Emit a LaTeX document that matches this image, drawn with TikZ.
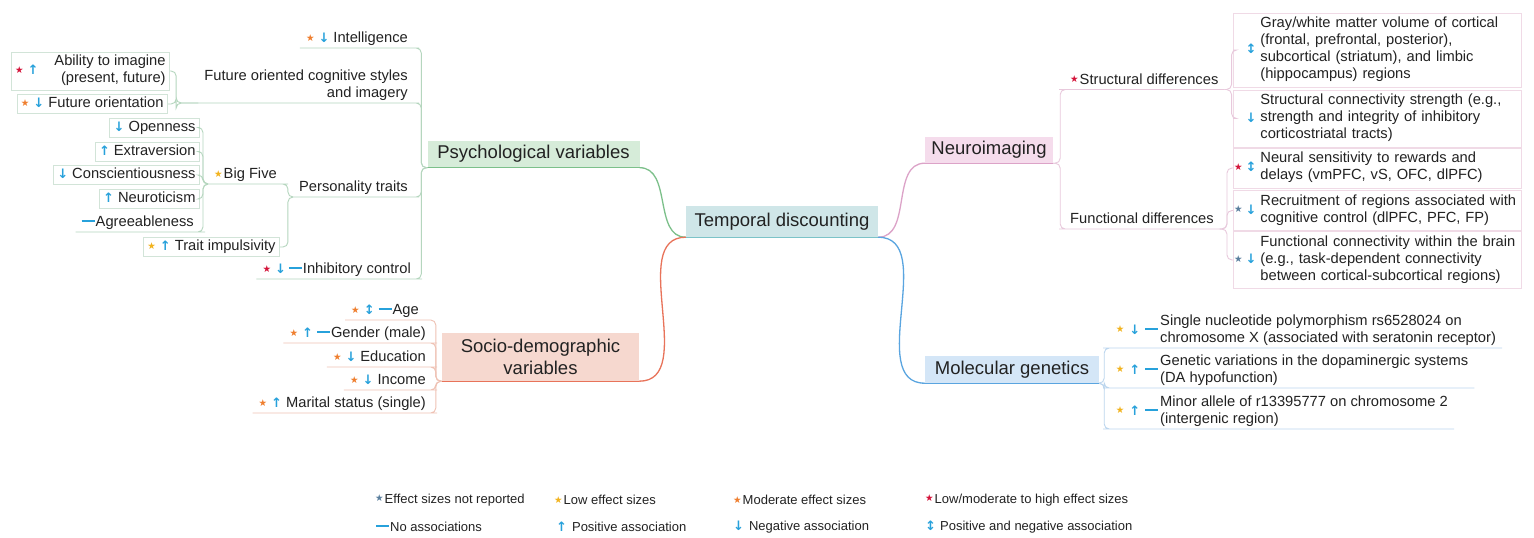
\documentclass[tikz,border=0pt]{standalone}
\usepackage{fontspec}
\setmainfont{Liberation Sans}
\newfontfamily\iconfont{DejaVu Sans}

\definecolor{txt}{HTML}{222222}
\definecolor{cNR}{HTML}{5B7F9E}
\definecolor{cLow}{HTML}{F2B31E}
\definecolor{cMod}{HTML}{EF7E2E}
\definecolor{cHigh}{HTML}{D4143A}
\definecolor{arblue}{HTML}{27A1DB}
\definecolor{tdfill}{HTML}{CFE6E8}
\definecolor{tdline}{HTML}{7CC3C8}
\definecolor{psfill}{HTML}{D6ECD9}
\definecolor{psmain}{HTML}{7CC08A}
\definecolor{psline}{HTML}{B5D6BE}
\definecolor{psbox}{HTML}{D2E4D8}
\definecolor{sofill}{HTML}{F6D8CF}
\definecolor{somain}{HTML}{E8735A}
\definecolor{soline}{HTML}{EFC2B4}
\definecolor{nefill}{HTML}{F5DCEC}
\definecolor{nemain}{HTML}{DCA3C8}
\definecolor{neline}{HTML}{E8C9DC}
\definecolor{nebox}{HTML}{F0DAE6}
\definecolor{mofill}{HTML}{D4E6F7}
\definecolor{momain}{HTML}{5AA5E0}
\definecolor{moline}{HTML}{BCD6EE}

\newcommand{\lblfont}{\fontsize{14.7}{17}\selectfont}
\newcommand{\topicfont}{\fontsize{18.5}{22.5}\selectfont}
\newcommand{\legfont}{\fontsize{13}{15}\selectfont}
\newcommand{\mkstar}[1]{\raisebox{1.6pt}{\iconfont\fontsize{9.5}{9.5}\selectfont\color{#1}★}}
\newcommand{\starNR}{\mkstar{cNR}}
\newcommand{\starLow}{\mkstar{cLow}}
\newcommand{\starMod}{\mkstar{cMod}}
\newcommand{\starHigh}{\mkstar{cHigh}}
\newcommand{\arUp}{{\iconfont\bfseries\fontsize{13}{13}\selectfont\color{arblue}↑}}
\newcommand{\arDown}{{\iconfont\bfseries\fontsize{13}{13}\selectfont\color{arblue}↓}}
\newcommand{\arBoth}{{\iconfont\bfseries\fontsize{13}{13}\selectfont\color{arblue}↕}}
\newcommand{\noAssoc}{{\color{arblue}\rule[4.2pt]{13pt}{2pt}}}

\begin{document}
\begin{tikzpicture}[x=1pt,y=-1pt,
  topic/.style={fill=#1, inner sep=0pt, minimum height=27pt, font=\topicfont, align=center, text=txt},
  lbl/.style={inner xsep=6pt, inner ysep=2pt, font=\lblfont, text=txt, text height=11pt, text depth=3.2pt},
  lbltwo/.style={inner xsep=6pt, inner ysep=2pt, font=\lblfont, text=txt},
  lbox/.style={lbl, draw=#1, line width=0.8pt, inner xsep=4pt, inner ysep=2.4pt},
  lboxtwo/.style={lbltwo, draw=#1, line width=0.8pt, inner xsep=4pt},
  rbox/.style={lbltwo, draw=#1, line width=0.8pt, anchor=west, inner xsep=3pt, inner ysep=3pt, text width=282pt},
  gene/.style={lbltwo, anchor=south west, inner ysep=0pt},
  branch/.style={draw=#1, line width=0.9pt, rounded corners=5pt},
  mainline/.style={draw=#1, line width=1.3pt},
  leg/.style={font=\legfont, text=txt, anchor=west, inner sep=0pt}]
\fill[white] (0,0) rectangle (1534,538);
\useasboundingbox (0,0) rectangle (1534,538);

% main topics
\node[topic=tdfill, minimum width=192pt, minimum height=31pt] (td) at (782,221.5) {Temporal discounting};
\node[topic=psfill, minimum width=212pt] (psych) at (533.5,154) {Psychological variables};
\node[topic=sofill, minimum width=197pt, minimum height=48pt] (socio) at (540.5,357) {Socio-demographic\\variables};
\node[topic=nefill, minimum width=128pt, minimum height=26pt] (neuro) at (989,150) {Neuroimaging};
\node[topic=mofill, minimum width=174pt] (mol) at (1012,369.5) {Molecular genetics};

\draw[mainline=tdline] (td.south west) -- (td.south east);
\draw[mainline=psmain] (psych.south west) -- (psych.south east);
\draw[mainline=somain] (socio.south west) -- (socio.south east);
\draw[mainline=nemain] (neuro.south west) -- (neuro.south east);
\draw[mainline=momain] (mol.south west) -- (mol.south east);
\draw[mainline=psmain] (td.south west) to[out=180,in=0] (psych.south east);
\draw[mainline=somain] (td.south west) to[out=180,in=0] (socio.south east);
\draw[mainline=nemain] (td.south east) to[out=0,in=180] (neuro.south west);
\draw[mainline=momain] (td.south east) to[out=0,in=180] (mol.south west);

% psychological variables
\node[lbl, anchor=south east] (intel) at (414,48) {\starMod\hspace{4pt}\arDown\hspace{4pt}Intelligence};
\node[lbltwo, align=right, anchor=south east] (future) at (414,103) {Future oriented cognitive styles\\and imagery};
\node[lbl, anchor=south east] (pers) at (414,197) {Personality traits};
\node[lbl, anchor=south east] (inhib) at (417,279) {\starHigh\hspace{4pt}\arDown\hspace{3pt}\noAssoc\hspace{1pt}Inhibitory control};
\foreach \c in {intel,future,pers,inhib}
  \draw[branch=psline] (psych.south west) -- ++(-6,0) |- (\c.south east) -- (\c.south west);

\node[lboxtwo=psbox, anchor=east] (imagine) at (170,71) {\starHigh\hspace{4pt}\arUp\hspace{16pt}\begin{tabular}[c]{@{}r@{}}Ability to imagine\\(present, future)\end{tabular}};
\node[lbox=psbox, anchor=east] (futori) at (168,104) {\starMod\hspace{4pt}\arDown\hspace{4pt}Future orientation};
\foreach \c in {imagine,futori}
  \draw[branch=psline] (future.south west) -- ++(-22,0) |- (\c.east);

\node[lbl, anchor=south east] (bigfive) at (283,184) {\starLow\hspace{1pt}Big Five};
\node[lbox=psbox, anchor=east] (trait) at (280,247) {\starLow\hspace{4pt}\arUp\hspace{4pt}Trait impulsivity};
\draw[branch=psline] (pers.south west) -- ++(-5,0) |- (bigfive.south east) -- (bigfive.south west);
\draw[branch=psline] (pers.south west) -- ++(-5,0) |- (trait.east);

\node[lbox=psbox, anchor=east] (open) at (200,127.5) {\arDown\hspace{4pt}Openness};
\node[lbox=psbox, anchor=east] (extra) at (200,151.5) {\arUp\hspace{4pt}Extraversion};
\node[lbox=psbox, anchor=east] (consc) at (200,175) {\arDown\hspace{4pt}Conscientiousness};
\node[lbox=psbox, anchor=east] (neurot) at (200,199) {\arUp\hspace{4pt}Neuroticism};
\node[lbl, anchor=south east] (agree) at (200,232) {\noAssoc\hspace{1pt}Agreeableness};
\foreach \c in {open,extra,consc,neurot}
  \draw[branch=psline] (bigfive.south west) -- ++(-5,0) |- (\c.east);
\draw[branch=psline] (bigfive.south west) -- ++(-5,0) |- (agree.south east) -- (agree.south west);

% socio-demographic variables
\node[lbl, anchor=south east] (age) at (425,320) {\starMod\hspace{4pt}\arBoth\hspace{4pt}\noAssoc\hspace{1pt}Age};
\node[lbl, anchor=south east] (gender) at (432,343) {\starMod\hspace{4pt}\arUp\hspace{4pt}\noAssoc\hspace{1pt}Gender (male)};
\node[lbl, anchor=south east] (educ) at (432,367) {\starMod\hspace{4pt}\arDown\hspace{4pt}Education};
\node[lbl, anchor=south east] (income) at (432,390) {\starMod\hspace{4pt}\arDown\hspace{4pt}Income};
\node[lbl, anchor=south east] (marital) at (432,413) {\starMod\hspace{4pt}\arUp\hspace{4pt}Marital status (single)};
\foreach \c in {age,gender,educ,income,marital}
  \draw[branch=soline] (socio.south west) -- ++(-6,0) |- (\c.south east) -- (\c.south west);

% neuroimaging
\node[lbl, anchor=south west] (struct) at (1064,89.5) {\starHigh\hspace{1pt}Structural differences};
\node[lbl, anchor=south west] (func) at (1064,229) {Functional differences};
\foreach \c in {struct,func}
  \draw[branch=neline] (neuro.south east) -- ++(7,0) |- (\c.south west) -- (\c.south east);

\node[rbox=nebox] (gray) at (1233,50) {\makebox[20pt][r]{\arBoth}\hspace{4pt}\begin{tabular}[c]{@{}l@{}}Gray/white matter volume of cortical\\(frontal, prefrontal, posterior),\\subcortical (striatum), and limbic\\(hippocampus) regions\end{tabular}};
\node[rbox=nebox] (sconn) at (1233,118.5) {\makebox[20pt][r]{\arDown}\hspace{4pt}\begin{tabular}[c]{@{}l@{}}Structural connectivity strength (e.g.,\\strength and integrity of inhibitory\\corticostriatal tracts)\end{tabular}};
\node[rbox=nebox] (sens) at (1233,168) {\makebox[20pt][r]{\starHigh\hspace{3pt}\arBoth}\hspace{4pt}\begin{tabular}[c]{@{}l@{}}Neural sensitivity to rewards and\\delays (vmPFC, vS, OFC, dlPFC)\end{tabular}};
\node[rbox=nebox] (recruit) at (1233,210.5) {\makebox[20pt][r]{\starNR\hspace{3pt}\arDown}\hspace{4pt}\begin{tabular}[c]{@{}l@{}}Recruitment of regions associated with\\cognitive control (dlPFC, PFC, FP)\end{tabular}};
\node[rbox=nebox] (fconn) at (1233,260) {\makebox[20pt][r]{\starNR\hspace{3pt}\arDown}\hspace{4pt}\begin{tabular}[c]{@{}l@{}}Functional connectivity within the brain\\(e.g., task-dependent connectivity\\between cortical-subcortical regions)\end{tabular}};
\foreach \c in {gray,sconn}
  \draw[branch=neline] (struct.south east) -- ++(7,0) |- (\c.west);
\foreach \c in {sens,recruit,fconn}
  \draw[branch=neline] (func.south east) -- ++(7,0) |- (\c.west);

% molecular genetics
\node[gene] (snp) at (1108,348) {\makebox[46pt][r]{\starLow\hspace{5pt}\arDown\hspace{5pt}\noAssoc\hspace{2pt}}\begin{tabular}[c]{@{}l@{}}Single nucleotide polymorphism rs6528024 on\\chromosome X (associated with seratonin receptor)\end{tabular}};
\node[gene] (dopa) at (1108,388) {\makebox[46pt][r]{\starLow\hspace{5pt}\arUp\hspace{5pt}\noAssoc\hspace{2pt}}\begin{tabular}[c]{@{}l@{}}Genetic variations in the dopaminergic systems\\(DA hypofunction)\end{tabular}};
\node[gene] (allele) at (1108,429) {\makebox[46pt][r]{\starLow\hspace{5pt}\arUp\hspace{5pt}\noAssoc\hspace{2pt}}\begin{tabular}[c]{@{}l@{}}Minor allele of r13395777 on chromosome 2\\(intergenic region)\end{tabular}};
\foreach \c in {snp,dopa,allele}
  \draw[branch=moline] (mol.south east) -- ++(5,0) |- (\c.south west) -- (\c.south east);

% legend
\node[leg] (lgNR) at (375,500) {\starNR\hspace{1pt}Effect sizes not reported};
\node[leg] (lgLow) at (554,500) {\starLow\hspace{1pt}Low effect sizes};
\node[leg] (lgMod) at (733,500) {\starMod\hspace{1pt}Moderate effect sizes};
\node[leg] (lgHigh) at (925,500) {\starHigh\hspace{1pt}Low/moderate to high effect sizes};
\node[leg] (lgNo) at (376,527) {\noAssoc\hspace{1pt}No associations};
\node[leg] (lgUp) at (556,527) {\arUp\hspace{5pt}Positive association};
\node[leg] (lgDown) at (733,527) {\arDown\hspace{5pt}Negative association};
\node[leg] (lgBoth) at (925,527) {\arBoth\hspace{4pt}Positive and negative association};
\end{tikzpicture}
\end{document}
